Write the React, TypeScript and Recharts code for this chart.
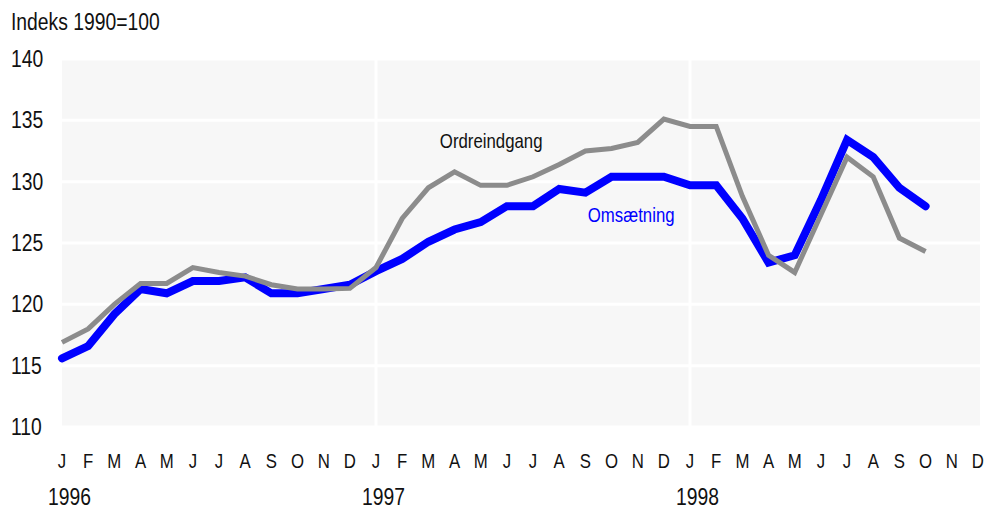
import React from 'react';
import { LineChart, Line, XAxis, YAxis, CartesianGrid, ReferenceLine, ReferenceDot } from 'recharts';

const months = ['J', 'F', 'M', 'A', 'M', 'J', 'J', 'A', 'S', 'O', 'N', 'D'];
const years = ['1996', '1997', '1998'];

// Jan 1996 - Oct 1998
const omsaetning = [
  115.6, 116.6, 119.2, 121.25, 120.9, 121.9, 121.9, 122.2, 120.9, 120.9, 121.25, 121.6,
  122.7, 123.7, 125.1, 126.1, 126.7, 128.0, 128.0, 129.4, 129.1, 130.4, 130.4, 130.4,
  129.7, 129.7, 127.0, 123.4, 124.0, 128.5, 133.4, 132.0, 129.5, 128.0,
];
const ordreindgang = [
  116.9, 118.0, 120.0, 121.7, 121.7, 123.0, 122.6, 122.3, 121.6, 121.25, 121.25, 121.3,
  123.0, 127.0, 129.5, 130.8, 129.7, 129.7, 130.4, 131.4, 132.5, 132.7, 133.2, 135.1,
  134.5, 134.5, 128.8, 124.0, 122.6, 127.3, 132.0, 130.4, 125.4, 124.3,
];
const yTicks = [110, 115, 120, 125, 130, 135, 140];

const FONT = "'Liberation Sans', Arial, sans-serif";
const SQUEEZE = 0.84;

const data = omsaetning.map((v, i) => ({ i, oms: v, ord: ordreindgang[i] }));
const xTicks = Array.from({ length: years.length * 12 }, (_, i) => i);

function Narrow({ x, y, size, anchor = 'start', fill = '#111', children }: any) {
  return (
    <text
      transform={`translate(${x},${y}) scale(${SQUEEZE},1)`}
      textAnchor={anchor}
      fontSize={size}
      fontFamily={FONT}
      fill={fill}
    >
      {children}
    </text>
  );
}

function MonthTick({ x, payload }: any) {
  const i = payload.value as number;
  return (
    <g>
      <Narrow x={x} y={468} size={20} anchor="middle">
        {months[i % 12]}
      </Narrow>
      {i % 12 === 0 && (
        <Narrow x={x - 14} y={505} size={23}>
          {years[i / 12]}
        </Narrow>
      )}
    </g>
  );
}

function ValueTick({ y, payload }: any) {
  return (
    <Narrow x={11} y={y + 8} size={23}>
      {payload.value}
    </Narrow>
  );
}

function SeriesLabel({ viewBox, text, fill }: any) {
  const cx = viewBox.x + (viewBox.width || 0) / 2;
  const cy = viewBox.y + (viewBox.height || 0) / 2;
  return (
    <Narrow x={cx} y={cy + 7} size={20} anchor="middle" fill={fill}>
      {text}
    </Narrow>
  );
}

export default function App() {
  return (
    <div style={{ position: 'absolute', left: 0, top: 0, width: 987, height: 509, background: '#fff' }}>
      <div
        style={{
          position: 'absolute',
          left: 11,
          top: 9,
          fontFamily: FONT,
          fontSize: 23,
          lineHeight: '26px',
          color: '#111',
          whiteSpace: 'nowrap',
          transform: `scaleX(${SQUEEZE})`,
          transformOrigin: 'left top',
        }}
      >
        Indeks 1990=100
      </div>
      <LineChart width={987} height={509} data={data} margin={{ top: 59, right: 7, left: 0, bottom: 0 }}>
        <CartesianGrid vertical={false} stroke="#fff" strokeWidth={3} fill="#f7f7f7" />
        <XAxis
          type="number"
          dataKey="i"
          domain={[0, 35.08]}
          ticks={xTicks}
          interval={0}
          axisLine={false}
          tickLine={false}
          height={82}
          tick={<MonthTick />}
        />
        <YAxis
          domain={[110, 140]}
          ticks={yTicks}
          axisLine={false}
          tickLine={false}
          width={62}
          tick={<ValueTick />}
        />
        <ReferenceLine x={12} stroke="#fff" strokeWidth={3} />
        <ReferenceLine x={24} stroke="#fff" strokeWidth={3} />
        <Line
          type="linear"
          dataKey="oms"
          stroke="#0000ff"
          strokeWidth={8}
          dot={false}
          strokeLinecap="round"
          isAnimationActive={false}
        />
        <Line
          type="linear"
          dataKey="ord"
          stroke="#8c8c8c"
          strokeWidth={5}
          dot={false}
          isAnimationActive={false}
        />
        <ReferenceDot x={16.4} y={133.3} r={0} label={<SeriesLabel text="Ordreindgang" fill="#111" />} />
        <ReferenceDot x={21.75} y={127.3} r={0} label={<SeriesLabel text="Omsætning" fill="#0000ff" />} />
      </LineChart>
    </div>
  );
}
